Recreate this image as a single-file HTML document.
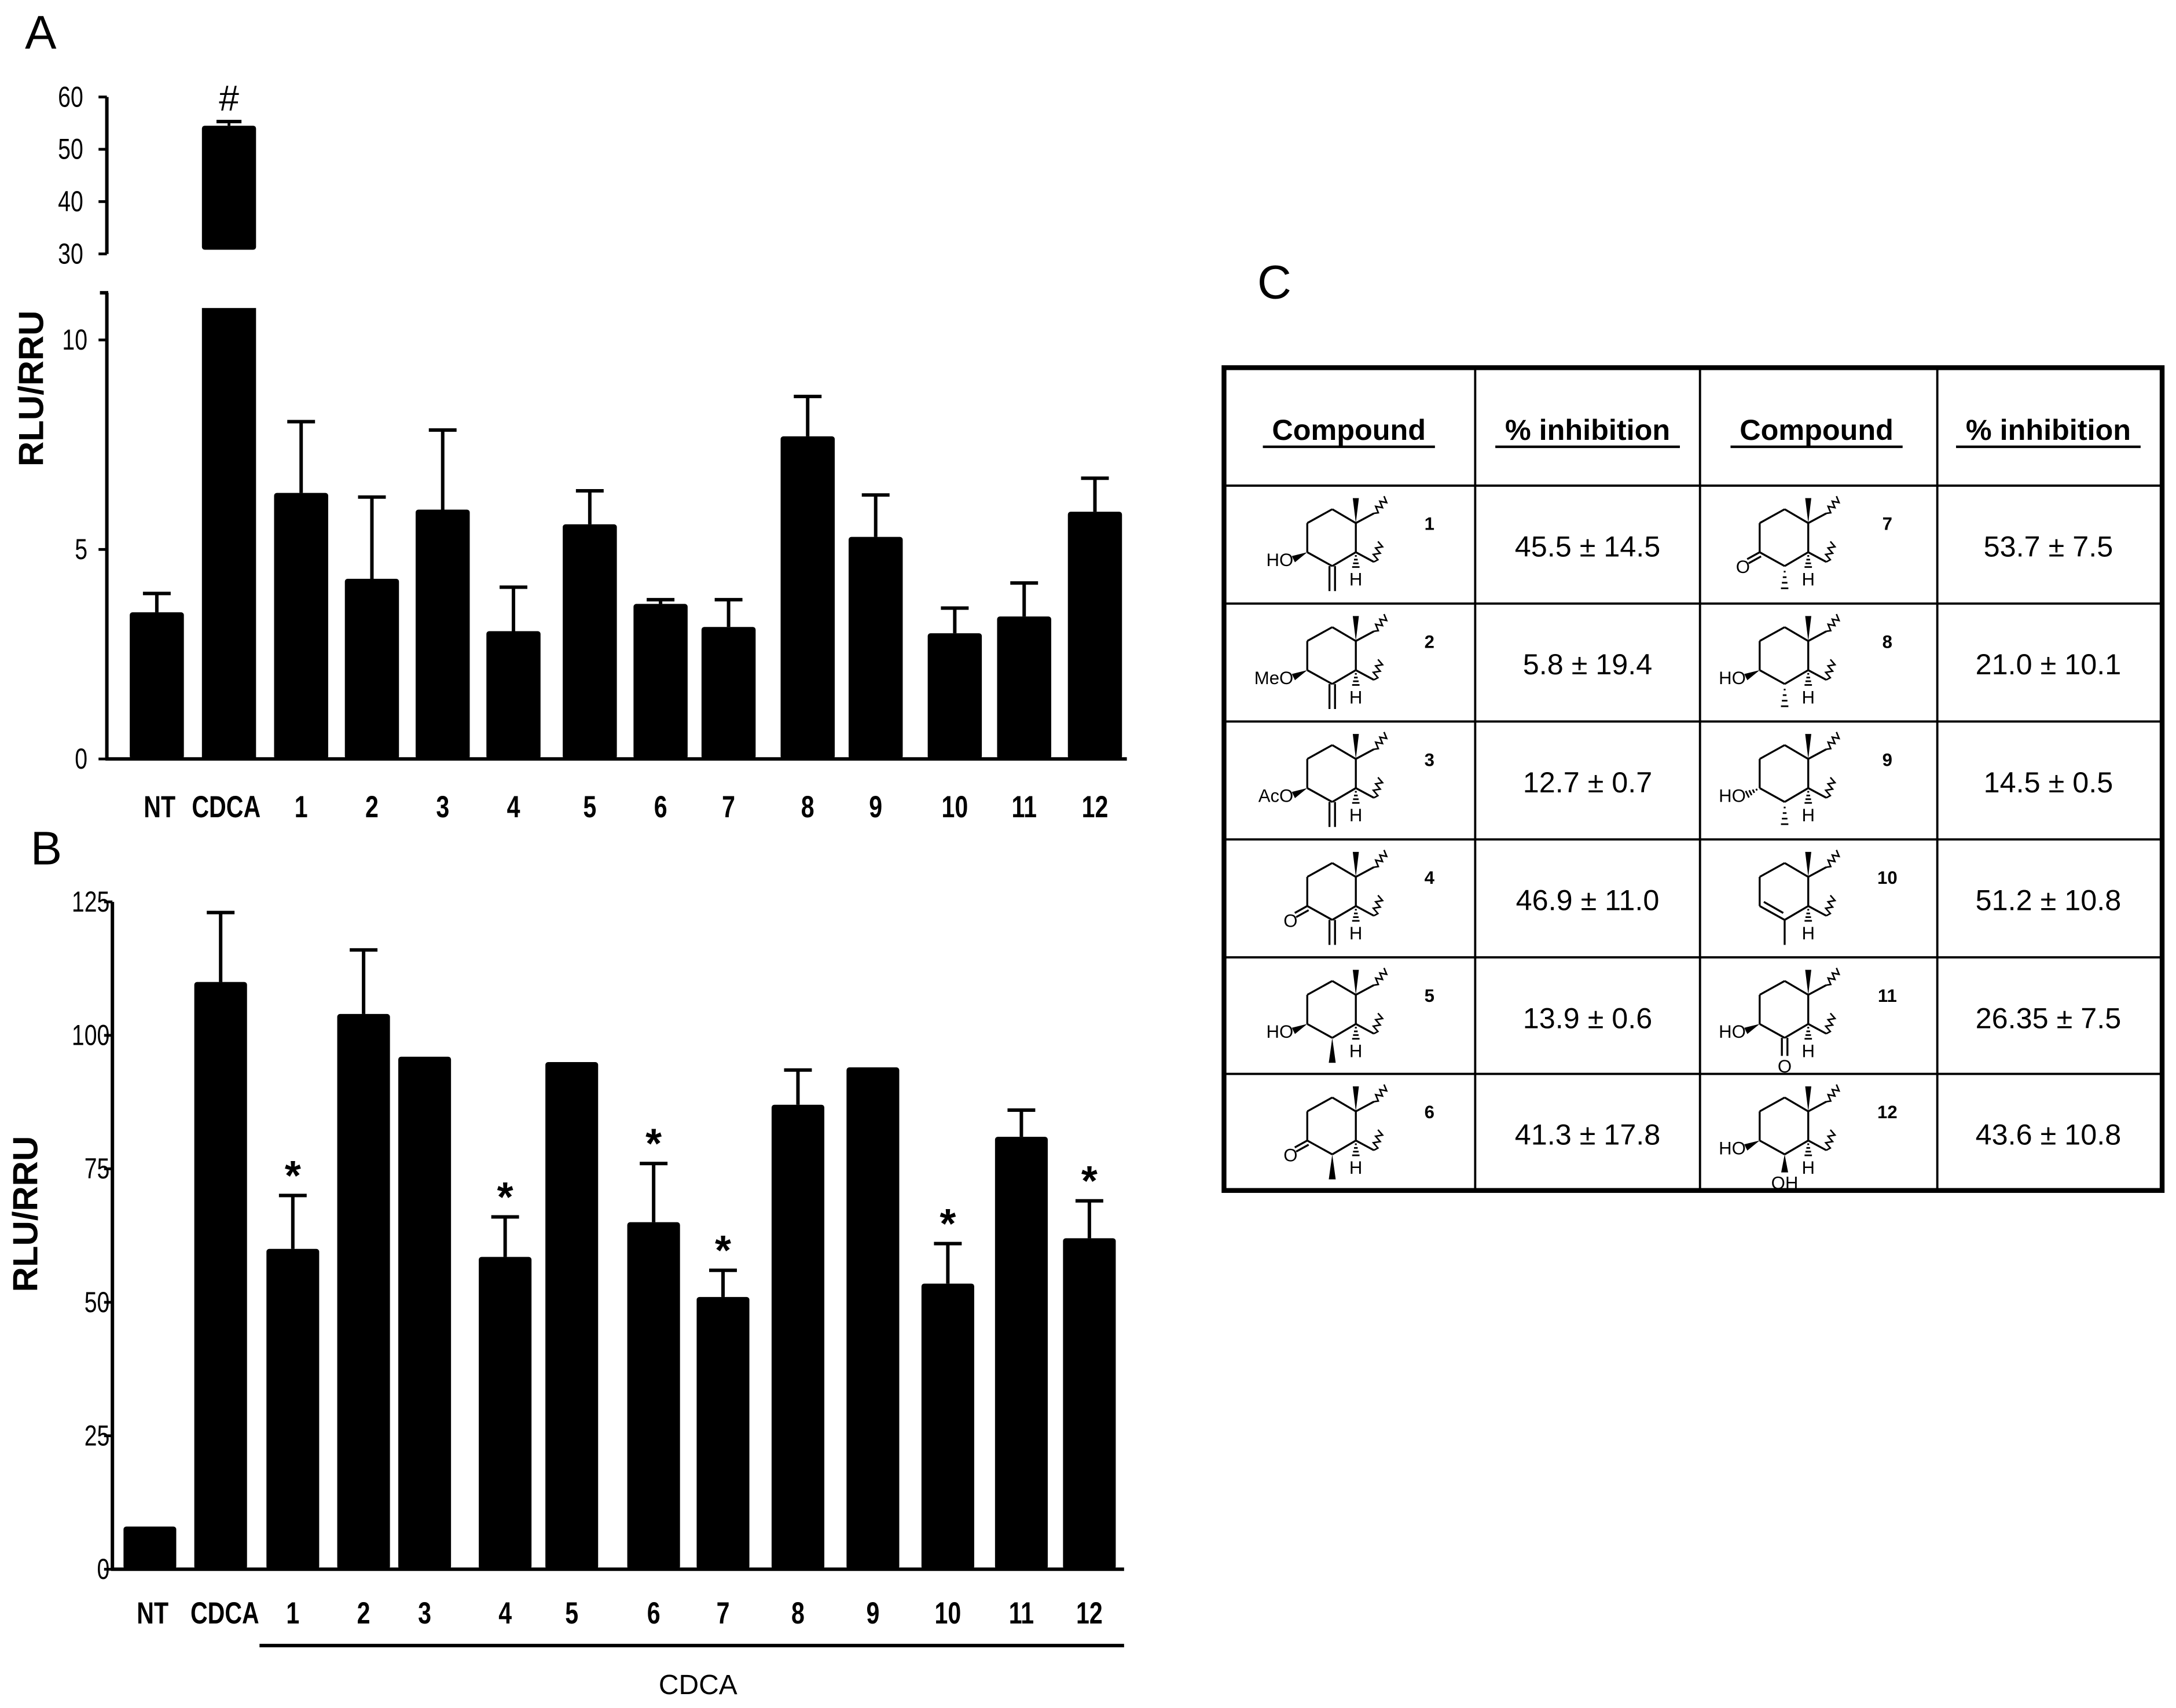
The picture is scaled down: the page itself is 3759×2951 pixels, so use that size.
<!DOCTYPE html>
<html><head><meta charset="utf-8"><style>
html,body{margin:0;padding:0;background:#fff;}
svg{display:block;}
text{font-family:"Liberation Sans",sans-serif;}
</style></head><body>
<svg id="fig" xmlns="http://www.w3.org/2000/svg" width="3759" height="2951" viewBox="0 0 1568 1231" preserveAspectRatio="none">
<rect x="0" y="0" width="1568" height="1231" fill="#fff"/>
<text x="18" y="35" font-size="34">A</text>
<text x="22" y="623" font-size="34">B</text>
<text x="906" y="215" font-size="34">C</text>
<g id="chartA"></g>
<g id="chartB"></g>
<g id="tableC"></g>
</svg>
<script>
const catsA = ["NT","CDCA","1","2","3","4","5","6","7","8","9","10","11","12"];
const valsA = [3.5,54.5,6.35,4.3,5.95,3.05,5.6,3.7,3.15,7.7,5.3,3.0,3.4,5.9];
const errA  = [0.45,0.8,1.7,1.95,1.9,1.05,0.8,0.1,0.65,0.95,1.0,0.6,0.8,0.8];
const ticksA_low = [0,5,10];
const ticksA_high = [30,40,50,60];
const catsB = ["NT","CDCA","1","2","3","4","5","6","7","8","9","10","11","12"];
const valsB = [8,110,60,104,96,58.5,95,65,51,87,94,53.5,81,62];
const errB  = [0.3,13,10,12,0.3,7.5,0.3,11,5,6.5,0.3,7.5,5,7];
const starB = [false,false,true,false,false,true,false,true,true,false,false,true,false,true];
const ticksB = [0,25,50,75,100,125];
const tblLeft = ["1","2","3","4","5","6"];
const tblLeftVal = ["45.5 ± 14.5","5.8 ± 19.4","12.7 ± 0.7","46.9 ± 11.0","13.9 ± 0.6","41.3 ± 17.8"];
const tblRight = ["7","8","9","10","11","12"];
const tblRightVal = ["53.7 ± 7.5","21.0 ± 10.1","14.5 ± 0.5","51.2 ± 10.8","26.35 ± 7.5","43.6 ± 10.8"];

const NS="http://www.w3.org/2000/svg";
function mk(p,tag,attrs,txt){const e=document.createElementNS(NS,tag);for(const k in attrs)e.setAttribute(k,attrs[k]);if(txt!==undefined)e.textContent=txt;p.appendChild(e);return e;}
function ntext(p,x,y,size,anchor,bold,str){
 return mk(p,'text',{x:0,y:0,'font-size':size,'text-anchor':anchor,'font-weight':bold?'bold':'normal',transform:`translate(${x},${y}) scale(0.78,1)`},str);
}

// ---- Chart A ----
(function(){
 const g=document.getElementById('chartA');
 const ax=77, y0=547, pxLow=30.2, yHigh=(v)=>183-(v-30)*3.77;
 const yLow=(v)=>y0-v*pxLow;
 const xs=[113,165,217,268,319,370,425,476,525,582,631,688,738,789];
 const bw=39;
 let l=mk(g,'line',{x1:ax,y1:y0+1,x2:ax,y2:211,stroke:'#000','stroke-width':2.5});
 
 l=mk(g,'line',{x1:ax,y1:yHigh(30),x2:ax,y2:yHigh(60),stroke:'#000','stroke-width':2.5});
 
 l=mk(g,'line',{x1:ax-1,y1:y0,x2:812,y2:y0,stroke:'#000','stroke-width':2.5});
 
 mk(g,'line',{x1:ax-5,y1:211,x2:ax+1,y2:211,stroke:'#000','stroke-width':2.5});
 ticksA_low.forEach(v=>{const y=yLow(v);mk(g,'line',{x1:ax-6,y1:y,x2:ax,y2:y,stroke:'#000','stroke-width':2});
  const t=ntext(g,ax-14,y+7,21,'end',false,String(v));
  });
 ticksA_high.forEach(v=>{const y=yHigh(v);mk(g,'line',{x1:ax-6,y1:y,x2:ax,y2:y,stroke:'#000','stroke-width':2});
  const t=ntext(g,ax-17,y+7,21,'end',false,String(v));
  });
 const yt=mk(g,'text',{x:0,y:0,'font-size':25,'font-weight':'bold','text-anchor':'middle',transform:'translate(31,280) rotate(-90)'},'RLU/RRU');
 
 catsA.forEach((c,i)=>{
  const v=valsA[i],e=errA[i],x=xs[i];
  if(v>11){
   let b=mk(g,'rect',{x:x-bw/2,y:222,width:bw,height:y0-222,fill:'#000'});
   
   b=mk(g,'rect',{x:x-bw/2,y:yHigh(v),width:bw,height:yHigh(30)-yHigh(v)-3,fill:'#000',rx:2});
   
   const ye=yHigh(v+e);mk(g,'line',{x1:x,y1:yHigh(v),x2:x,y2:ye,stroke:'#000','stroke-width':2});
   mk(g,'line',{x1:x-9,y1:ye,x2:x+9,y2:ye,stroke:'#000','stroke-width':2.5});
   const h=mk(g,'text',{x:x,y:ye-8,'font-size':26,'text-anchor':'middle'},'#');
   
  } else {
   const b=mk(g,'rect',{x:x-bw/2,y:yLow(v),width:bw,height:y0-yLow(v),fill:'#000',rx:2});
   
   const ye=yLow(v+e);mk(g,'line',{x1:x,y1:yLow(v),x2:x,y2:ye,stroke:'#000','stroke-width':2.5});
   mk(g,'line',{x1:x-10,y1:ye,x2:x+10,y2:ye,stroke:'#000','stroke-width':2.5});
  }
  const lx = c==="NT"?x+2:(c==="CDCA"?x-2:x);
  const t=ntext(g,lx,589,22,'middle',true,c);
  
 });
})();

// ---- Chart B ----
(function(){
 const g=document.getElementById('chartB');
 const ax=81, y0=1131, k=(1131-650)/125;
 const Y=(v)=>y0-v*k;
 const xs=[108,159,211,262,306,364,412,471,521,575,629,683,736,785];
 const bw=38;
 let l=mk(g,'line',{x1:ax,y1:y0+1,x2:ax,y2:Y(125),stroke:'#000','stroke-width':2.5});
 
 l=mk(g,'line',{x1:ax-1,y1:y0,x2:810,y2:y0,stroke:'#000','stroke-width':2.5});
 
 ticksB.forEach(v=>{const y=Y(v);mk(g,'line',{x1:ax-6,y1:y,x2:ax,y2:y,stroke:'#000','stroke-width':2});
  const t=ntext(g,ax-2,y+7,21,'end',false,String(v));
  });
 const yt=mk(g,'text',{x:0,y:0,'font-size':25,'font-weight':'bold','text-anchor':'middle',transform:'translate(27,875) rotate(-90)'},'RLU/RRU');
 
 catsB.forEach((c,i)=>{
  const v=valsB[i],e=errB[i],x=xs[i];
  const b=mk(g,'rect',{x:x-bw/2,y:Y(v),width:bw,height:y0-Y(v),fill:'#000',rx:2});
  
  const ye=Y(v+e);
  if(e>1){mk(g,'line',{x1:x,y1:Y(v),x2:x,y2:ye,stroke:'#000','stroke-width':2.5});
   mk(g,'line',{x1:x-10,y1:ye,x2:x+10,y2:ye,stroke:'#000','stroke-width':2.5});}
  if(starB[i]){const s=mk(g,'text',{x:x,y:ye-4,'font-size':30,'font-weight':'bold','text-anchor':'middle'},'*');
   }
  const lx = c==="NT"?x+2:(c==="CDCA"?x+3:x);
  const t=ntext(g,lx,1170,22,'middle',true,c);
  
 });
 l=mk(g,'line',{x1:187,y1:1186,x2:810,y2:1186,stroke:'#000','stroke-width':2.5});
 
 const t=mk(g,'text',{x:503,y:1221,'font-size':20,'text-anchor':'middle'},'CDCA');
 
})();

// ---- Table C ----
(function(){
 const g=document.getElementById('tableC');
 const L=882,R=1558,T=265,B=858;
 const cols=[L,1063,1225,1396,R];
 const rows=[T,350,435,520,605,690,774,B];
 let r=mk(g,'rect',{x:L,y:T,width:R-L,height:B-T,fill:'none',stroke:'#000','stroke-width':3.5});
 
 cols.slice(1,4).forEach(x=>mk(g,'line',{x1:x,y1:T,x2:x,y2:B,stroke:'#000','stroke-width':1.6}));
 rows.slice(1,7).forEach(y=>mk(g,'line',{x1:L,y1:y,x2:R,y2:y,stroke:'#000','stroke-width':1.6}));
 const heads=["Compound","% inhibition","Compound","% inhibition"];
 const hx=[972,1144,1309,1476], hw=[124,133,124,133];
 heads.forEach((h,i)=>{const t=mk(g,'text',{x:hx[i],y:317,'font-size':21,'font-weight':'bold','text-anchor':'middle'},h);
  
  mk(g,'line',{x1:hx[i]-hw[i]/2,y1:322,x2:hx[i]+hw[i]/2,y2:322,stroke:'#000','stroke-width':1.8});});
 const specs={
  "1":{bl:'HO',b:'CH2'},"2":{bl:'MeO',b:'CH2'},"3":{bl:'AcO',b:'CH2'},"4":{bl:'=O',b:'CH2'},
  "5":{bl:'HO',b:'Me'},"6":{bl:'=O',b:'Me'},"7":{bl:'=O',b:'Mea'},"8":{bl:'HO',b:'Mea'},
  "9":{bl:'HOa',b:'Mea'},"10":{bl:'ene',b:'Mep'},"11":{bl:'HO',b:'=O'},"12":{bl:'HO',b:'OH'}};
 function ln(p,a,b,w){mk(p,'line',{x1:a[0],y1:a[1],x2:b[0],y2:b[1],stroke:'#000','stroke-width':w||1.4});}
 function wedge(p,a,b,w){const dx=b[0]-a[0],dy=b[1]-a[1],len=Math.hypot(dx,dy),nx=-dy/len*w,ny=dx/len*w;
  mk(p,'polygon',{points:`${a[0]},${a[1]} ${b[0]+nx},${b[1]+ny} ${b[0]-nx},${b[1]-ny}`,fill:'#000'});}
 function hash(p,a,b,w){for(let i=1;i<=4;i++){const t=i/4.5,x=a[0]+(b[0]-a[0])*t,y=a[1]+(b[1]-a[1])*t,hw=w*t;
  const dx=b[0]-a[0],dy=b[1]-a[1],len=Math.hypot(dx,dy),nx=-dy/len*hw,ny=dx/len*hw;ln(p,[x-nx,y-ny],[x+nx,y+ny],1.2);}}
 function wavy(p,a,b,end){ln(p,a,b);
  const dx=end[0]-b[0],dy=end[1]-b[1],len=Math.hypot(dx,dy),nx=-dy/len*2.2,ny=dx/len*2.2;
  let d=`M${b[0]},${b[1]}`;const n=6;for(let i=1;i<=n;i++){const t=i/n,x=b[0]+dx*t,y=b[1]+dy*t;const s=(i%2?1:-1);d+=` L${x+nx*s},${y+ny*s}`;}
  mk(p,'path',{d:d,fill:'none',stroke:'#000','stroke-width':1.1});}
 function struct(id,ox,oy){
  const s=specs[id];const p=mk(g,'g',{});
  
  
  const P=(x,y)=>[ox+x,oy+y];
  const TL=P(0,10),Tp=P(18,0),TR=P(35,10),BR=P(35,31),Bm=P(18,41),BL=P(0,31);
  ln(p,TL,Tp);ln(p,Tp,TR);ln(p,TR,BR);ln(p,BR,Bm);ln(p,Bm,BL);ln(p,BL,TL);
  wedge(p,TR,P(35,-8),2.2);
  wavy(p,TR,P(48,3),P(57,-8));
  wavy(p,BR,P(48,38),P(53,24));
  hash(p,BR,P(35,43),3);
  mk(p,'text',{x:ox+35,y:oy+55,'font-size':13,'text-anchor':'middle'},'H');
  const sub=(t,x,y)=>mk(p,'text',{x:x,y:y,'font-size':13,'text-anchor':'end'},t);
  if(s.bl==='HO'||s.bl==='MeO'||s.bl==='AcO'){wedge(p,BL,P(-10,36),2.5);sub(s.bl,ox-10,oy+41);}
  else if(s.bl==='HOa'){hash(p,BL,P(-10,36),3);sub('HO',ox-10,oy+41);}
  else if(s.bl==='=O'){ln(p,BL,P(-9,36));ln(p,P(1,34),P(-8,39));sub('O',ox-7,oy+46);}
  else if(s.bl==='ene'){ln(p,P(3,28),P(17,36));}
  if(s.b==='CH2'){ln(p,P(16,41),P(16,59));ln(p,P(20,41),P(20,59));}
  else if(s.b==='Me'){wedge(p,Bm,P(18,59),2.5);}
  else if(s.b==='Mea'){hash(p,Bm,P(18,59),3);}
  else if(s.b==='Mep'){ln(p,Bm,P(18,59));}
  else if(s.b==='=O'){ln(p,P(16,41),P(16,54));ln(p,P(20,41),P(20,54));mk(p,'text',{x:ox+18,y:oy+66,'font-size':13,'text-anchor':'middle'},'O');}
  else if(s.b==='OH'){wedge(p,Bm,P(18,54),2.5);mk(p,'text',{x:ox+18,y:oy+66,'font-size':13,'text-anchor':'middle'},'OH');}
 }
 for(let i=0;i<6;i++){
  const top=rows[i+1];
  struct(tblLeft[i],942,top+17);
  let t=mk(g,'text',{x:1030,y:top+32,'font-size':13,'font-weight':'bold','text-anchor':'middle'},tblLeft[i]);
  
  t=mk(g,'text',{x:1144,y:top+51,'font-size':21,'text-anchor':'middle'},tblLeftVal[i]);
  
  struct(tblRight[i],1268,top+17);
  t=mk(g,'text',{x:1360,y:top+32,'font-size':13,'font-weight':'bold','text-anchor':'middle'},tblRight[i]);
  
  t=mk(g,'text',{x:1476,y:top+51,'font-size':21,'text-anchor':'middle'},tblRightVal[i]);
  
 }
})();
</script>
</body></html>
